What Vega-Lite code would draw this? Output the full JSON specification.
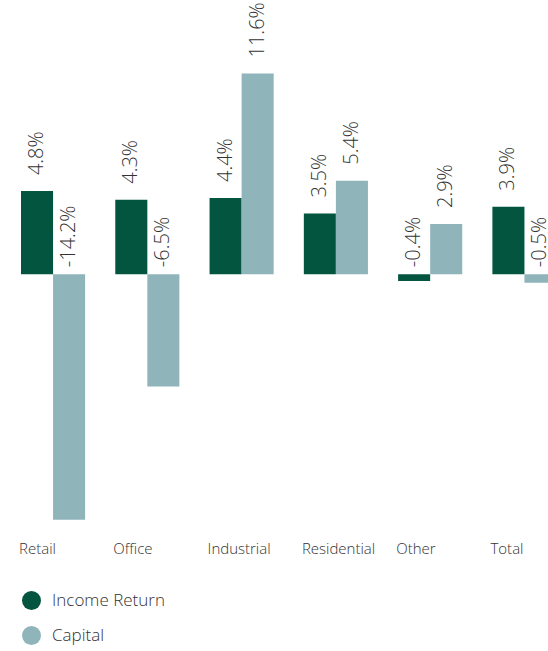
{
  "$schema": "https://vega.github.io/schema/vega-lite/v6.json",
  "width": 527,
  "height": 519,
  "autosize": {"type": "none"},
  "padding": {"left": 21, "top": 6, "right": 0, "bottom": 126},
  "background": "white",
  "config": {"view": {"stroke": null}, "font": "Open Sans"},
  "data": {
    "values": [
      {"sector": "Retail", "series": "Income Return", "value": 4.8, "label": "4.8%"},
      {"sector": "Retail", "series": "Capital", "value": -14.2, "label": "-14.2%"},
      {"sector": "Office", "series": "Income Return", "value": 4.3, "label": "4.3%"},
      {"sector": "Office", "series": "Capital", "value": -6.5, "label": "-6.5%"},
      {"sector": "Industrial", "series": "Income Return", "value": 4.4, "label": "4.4%"},
      {"sector": "Industrial", "series": "Capital", "value": 11.6, "label": "11.6%"},
      {"sector": "Residential", "series": "Income Return", "value": 3.5, "label": "3.5%"},
      {"sector": "Residential", "series": "Capital", "value": 5.4, "label": "5.4%"},
      {"sector": "Other", "series": "Income Return", "value": -0.4, "label": "-0.4%"},
      {"sector": "Other", "series": "Capital", "value": 2.9, "label": "2.9%"},
      {"sector": "Total", "series": "Income Return", "value": 3.9, "label": "3.9%"},
      {"sector": "Total", "series": "Capital", "value": -0.5, "label": "-0.5%"}
    ]
  },
  "encoding": {
    "x": {
      "field": "sector",
      "type": "nominal",
      "sort": ["Retail", "Office", "Industrial", "Residential", "Other", "Total"],
      "scale": {"range": [0, 535.5], "paddingInner": 0.32, "paddingOuter": 0},
      "axis": {
        "title": null,
        "domain": false,
        "ticks": false,
        "labelAlign": "left",
        "labelAngle": 0,
        "labelOffset": -34,
        "labelFontSize": 15,
        "labelFont": "Open Sans",
        "labelFontWeight": 300,
        "labelColor": "#333333",
        "labelPadding": 16
      }
    },
    "xOffset": {"field": "series", "type": "nominal", "sort": ["Income Return", "Capital"]}
  },
  "layer": [
    {
      "mark": {"type": "bar"},
      "encoding": {
        "y": {
          "field": "value",
          "type": "quantitative",
          "scale": {"domain": [-14.5, 15.5], "nice": false},
          "axis": null
        },
        "color": {
          "field": "series",
          "type": "nominal",
          "scale": {"domain": ["Income Return", "Capital"], "range": ["#03553f", "#8fb4ba"]},
          "legend": {
            "orient": "none",
            "legendX": 1,
            "legendY": 585,
            "title": null,
            "symbolType": "circle",
            "symbolSize": 360,
            "symbolOpacity": 1,
            "symbolStrokeWidth": 0,
            "labelFontSize": 17,
            "labelFont": "Open Sans",
            "labelFontWeight": 300,
            "labelColor": "#333333",
            "labelOffset": 11,
            "rowPadding": 16
          }
        }
      }
    },
    {
      "transform": [{"filter": "datum.value >= 0"}],
      "mark": {"type": "text", "angle": 270, "align": "left", "baseline": "middle", "dx": 16, "fontSize": 20, "font": "Open Sans", "fontWeight": 300, "color": "#333333"},
      "encoding": {
        "y": {"field": "value", "type": "quantitative"},
        "text": {"field": "label", "type": "nominal"}
      }
    },
    {
      "transform": [{"filter": "datum.value < 0"}],
      "mark": {"type": "text", "angle": 270, "align": "left", "baseline": "middle", "dx": 7, "fontSize": 20, "font": "Open Sans", "fontWeight": 300, "color": "#333333"},
      "encoding": {
        "y": {"datum": 0},
        "text": {"field": "label", "type": "nominal"}
      }
    }
  ]
}
